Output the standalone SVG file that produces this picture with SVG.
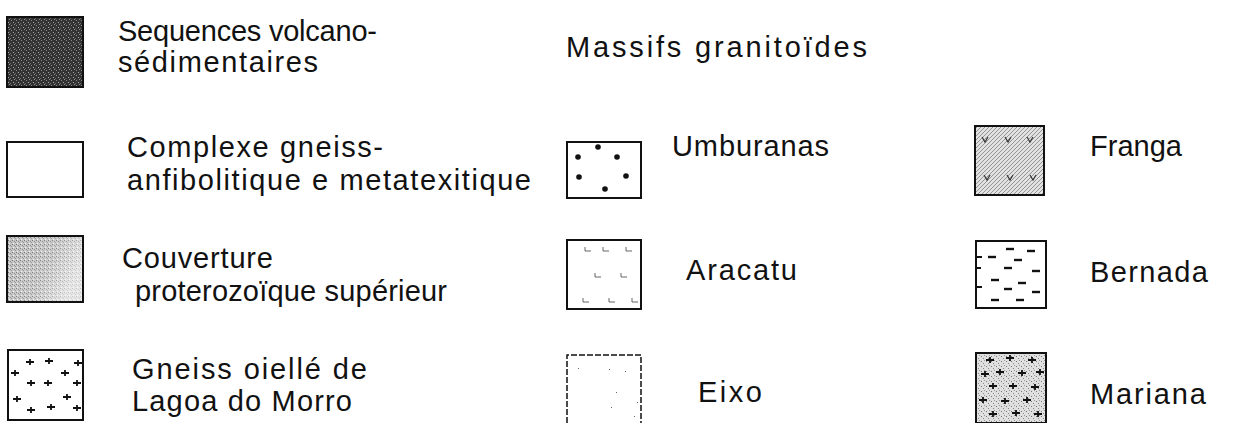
<svg xmlns="http://www.w3.org/2000/svg" width="1234" height="423" viewBox="0 0 1234 423">
<style>
text{font-family:"Liberation Sans",Arial,sans-serif;font-size:29px;fill:#111}
.box{stroke:#111;stroke-width:2}
.dot{fill:#111}
</style>
<defs>
<pattern id="dark" width="5" height="5" patternUnits="userSpaceOnUse">
<rect width="5" height="5" fill="#333"/>
<rect x="1" y="0" width="1" height="1" fill="#8a8a8a"/>
<rect x="3" y="2" width="1" height="1" fill="#a8a8a8"/>
<rect x="0" y="3" width="1" height="1" fill="#6a6a6a"/>
<rect x="4" y="4" width="1" height="1" fill="#909090"/>
</pattern>
<pattern id="grey" width="4" height="4" patternUnits="userSpaceOnUse">
<rect width="4" height="4" fill="#c4c4c4"/>
<rect x="0" y="0" width="1" height="1" fill="#707070"/>
<rect x="2" y="1" width="1" height="1" fill="#858585"/>
<rect x="1" y="3" width="1" height="1" fill="#f0f0f0"/>
<rect x="3" y="2" width="1" height="1" fill="#959595"/>
</pattern>
<linearGradient id="fade" x1="0" y1="0" x2="1" y2="0.4">
<stop offset="0" stop-color="#fff" stop-opacity="0"/>
<stop offset="0.6" stop-color="#fff" stop-opacity="0.15"/>
<stop offset="1" stop-color="#fff" stop-opacity="0.6"/>
</linearGradient>
<pattern id="hatch" width="4" height="4" patternUnits="userSpaceOnUse">
<rect width="4" height="4" fill="#e2e2e2"/>
<path d="M0 4L4 0" stroke="#8a8a8a" stroke-width="0.9"/>
</pattern>
<pattern id="spk" width="5" height="5" patternUnits="userSpaceOnUse">
<rect width="5" height="5" fill="#e0e0e0"/>
<rect x="1" y="1" width="1" height="1" fill="#777"/>
<rect x="3" y="3" width="1" height="1" fill="#888"/>
<rect x="4" y="0" width="1" height="1" fill="#999"/>
</pattern>
<path id="plus" d="M-4 0H4M0 -3V3" stroke="#111" stroke-width="1.8"/>
<path id="ell" d="M0 -4V0H6" stroke="#555" stroke-width="0.9" fill="none"/>
<path id="vv" d="M-3 -3L0 2L3 -3" stroke="#333" stroke-width="1.2" fill="none"/>
<path id="dash" d="M-4 0H4" stroke="#111" stroke-width="2.4"/>
</defs>

<g id="title">
<text x="566" y="57" textLength="301" lengthAdjust="spacing">Massifs granitoïdes</text>
</g>

<g id="sequences">
<rect class="box" x="7" y="17" width="76" height="70" fill="url(#dark)"/>
<text x="118" y="41" textLength="259" lengthAdjust="spacing">Sequences volcano-</text>
<text x="118" y="72" textLength="200" lengthAdjust="spacing">sédimentaires</text>
</g>

<g id="complexe">
<rect class="box" x="7" y="142" width="76" height="55" fill="#fff"/>
<text x="127" y="157" textLength="256" lengthAdjust="spacing">Complexe gneiss-</text>
<text x="127" y="190" textLength="404" lengthAdjust="spacing">anfibolitique e metatexitique</text>
</g>

<g id="couverture">
<rect class="box" x="7" y="236" width="76" height="66" fill="url(#grey)"/>
<rect x="8" y="237" width="74" height="64" fill="url(#fade)"/>
<text x="122" y="268" textLength="151" lengthAdjust="spacing">Couverture</text>
<text x="135" y="301" textLength="312" lengthAdjust="spacing">proterozoïque supérieur</text>
</g>

<g id="gneiss">
<rect class="box" x="8" y="350" width="75" height="70" fill="#fff"/>
<use href="#plus" x="30" y="362"/><use href="#plus" x="49" y="361"/><use href="#plus" x="78" y="363"/>
<use href="#plus" x="15" y="373"/><use href="#plus" x="65" y="373"/>
<use href="#plus" x="31" y="383"/><use href="#plus" x="48" y="383"/><use href="#plus" x="77" y="383"/>
<use href="#plus" x="17" y="399"/><use href="#plus" x="67" y="397"/>
<use href="#plus" x="31" y="410"/><use href="#plus" x="51" y="407"/><use href="#plus" x="77" y="408"/>
<text x="132" y="379" textLength="235" lengthAdjust="spacing">Gneiss oiellé de</text>
<text x="132" y="411" textLength="220" lengthAdjust="spacing">Lagoa do Morro</text>
</g>

<g id="umburanas">
<rect class="box" x="567" y="142" width="74" height="56" fill="#fff"/>
<circle class="dot" cx="578" cy="157" r="2.8"/><circle class="dot" cx="598" cy="147" r="2.8"/><circle class="dot" cx="617" cy="157" r="2.8"/>
<circle class="dot" cx="579" cy="177" r="2.8"/><circle class="dot" cx="605" cy="189" r="2.8"/><circle class="dot" cx="626" cy="176" r="2.8"/>
<text x="672" y="156" textLength="157" lengthAdjust="spacing">Umburanas</text>
</g>

<g id="aracatu">
<rect class="box" x="567" y="240" width="74" height="69" fill="#fff" stroke-width="1.5"/>
<use href="#ell" x="585" y="251"/><use href="#ell" x="603" y="251"/><use href="#ell" x="626" y="251"/>
<use href="#ell" x="595" y="277"/><use href="#ell" x="621" y="277"/>
<use href="#ell" x="583" y="302"/><use href="#ell" x="609" y="302"/><use href="#ell" x="632" y="302"/>
<text x="686" y="280" textLength="111" lengthAdjust="spacing">Aracatu</text>
</g>

<g id="eixo">
<path d="M567 423V355H641V423" fill="#fff" stroke="#111" stroke-width="1.5" stroke-dasharray="6 2"/>
<rect x="578" y="368" width="1" height="1" fill="#666"/><rect x="609" y="369" width="1" height="1" fill="#666"/>
<rect x="625" y="371" width="1" height="1" fill="#666"/><rect x="616" y="392" width="1" height="1" fill="#666"/>
<rect x="637" y="402" width="1" height="1" fill="#666"/><rect x="611" y="407" width="1" height="1" fill="#666"/>
<rect x="634" y="416" width="1" height="1" fill="#666"/>
<text x="698" y="402" textLength="64" lengthAdjust="spacing">Eixo</text>
</g>

<g id="franga">
<rect class="box" x="975" y="126" width="69" height="69" fill="url(#hatch)"/>
<use href="#vv" x="985" y="140"/><use href="#vv" x="1008" y="140"/><use href="#vv" x="1030" y="140"/>
<use href="#vv" x="987" y="178"/><use href="#vv" x="1010" y="178"/><use href="#vv" x="1033" y="178"/>
<text x="1090" y="156" textLength="92" lengthAdjust="spacing">Franga</text>
</g>

<g id="bernada">
<rect class="box" x="976" y="241" width="70" height="67" fill="#fff" stroke-width="1.5"/>
<use href="#dash" x="1010" y="249"/><use href="#dash" x="1031" y="251"/>
<use href="#dash" x="992" y="257"/><use href="#dash" x="1018" y="260"/>
<use href="#dash" x="1008" y="268"/><use href="#dash" x="1036" y="271"/>
<use href="#dash" x="995" y="280"/><use href="#dash" x="1022" y="283"/>
<use href="#dash" x="1008" y="289"/><use href="#dash" x="1036" y="292"/>
<use href="#dash" x="995" y="300"/><use href="#dash" x="1020" y="300"/>
<path d="M976 257H982M976 268H981M976 287H982" stroke="#111" stroke-width="2"/>
<text x="1090" y="282" textLength="118" lengthAdjust="spacing">Bernada</text>
</g>

<g id="mariana">
<rect class="box" x="976" y="353" width="70" height="70" fill="url(#spk)"/>
<use href="#plus" x="990" y="360"/><use href="#plus" x="1010" y="358"/><use href="#plus" x="1032" y="360"/>
<use href="#plus" x="985" y="374"/><use href="#plus" x="1000" y="372"/><use href="#plus" x="1022" y="373"/><use href="#plus" x="1040" y="372"/>
<use href="#plus" x="993" y="386"/><use href="#plus" x="1013" y="386"/><use href="#plus" x="1035" y="387"/>
<use href="#plus" x="983" y="400"/><use href="#plus" x="1005" y="401"/><use href="#plus" x="1027" y="400"/>
<use href="#plus" x="993" y="414"/><use href="#plus" x="1016" y="413"/><use href="#plus" x="1038" y="414"/>
<text x="1090" y="404" textLength="116" lengthAdjust="spacing">Mariana</text>
</g>

<g id="connectors"/>
</svg>
